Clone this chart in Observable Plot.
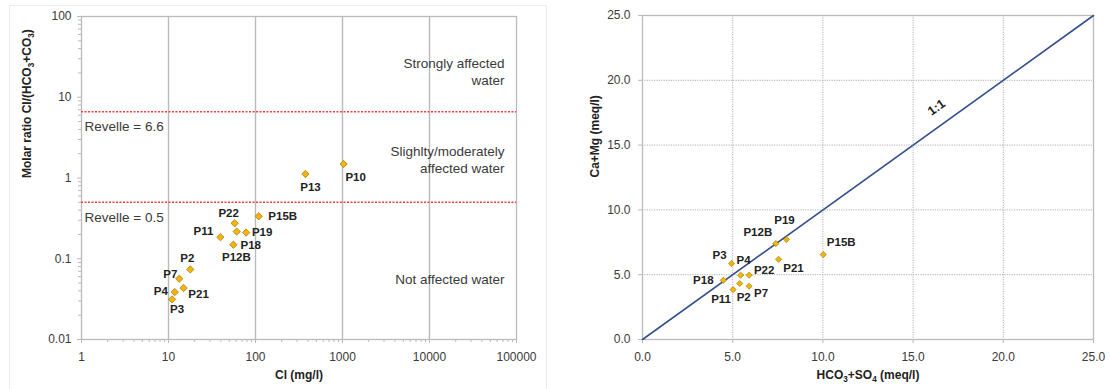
<!DOCTYPE html>
<html><head><meta charset="utf-8">
<script src="https://cdn.jsdelivr.net/npm/d3@7"></script>
<script src="https://cdn.jsdelivr.net/npm/@observablehq/plot@0.6"></script>
<style>
body{margin:0;background:#fff;width:1110px;height:389px;overflow:hidden;position:relative;font-family:"Liberation Sans",Arial,sans-serif;}
#left{position:absolute;left:0;top:0;}
#right{position:absolute;left:560px;top:0;}
#frameL{position:absolute;left:9px;top:5px;width:538px;height:400px;border:1px solid #ececec;box-sizing:border-box;}
</style></head><body>
<div id="frameL"></div><div id="left"></div><div id="right"></div>
<script>
// ---- Left chart data (Cl vs molar ratio) ----
const leftSites = ["P10","P13","P15B","P22","P19","P18","P11","P12B","P2","P7","P21","P4","P3"];
const chloride = [1030,375,109,57.6,78,60.8,39.5,55.7,17.8,13.3,14.9,11.8,11.0];
const molarRatio = [1.49,1.12,0.336,0.275,0.211,0.217,0.185,0.149,0.0738,0.0566,0.0434,0.0387,0.0314];
const revelleLevels = [0.5, 6.6];
const clTicks = [1,10,100,1000,10000,100000];
const ratioTicks = [0.01,0.1,1,10,100];
const zoneLabels = ["Strongly affected\nwater","Slighlty/moderately\naffected water","Not affected water"];

// ---- Right chart data (HCO3+SO4 vs Ca+Mg) ----
const rightSites = ["P3","P4","P22","P18","P11","P2","P7","P12B","P19","P21","P15B"];
const hco3so4 = [4.94,5.44,5.91,4.48,5.02,5.39,5.91,7.39,7.98,7.54,10.02];
const caMg = [5.86,4.96,4.96,4.57,3.85,4.32,4.11,7.40,7.71,6.19,6.55];
const meqTicks = [0,5,10,15,20,25];
const oneToOne = [0,25];

// label placement (pixels)
const leftLabelOffsets = {P10:[12,13],P13:[5,13],P15B:[24,0],P22:[-6,-10],P19:[16,0],P18:[14,14],P11:[-17,-6],P12B:[3,13],P2:[-3,-11],P7:[-9,-4],P21:[15,6],P4:[-14,-1],P3:[5,10]};
const rightLabelOffsets = {P3:[-12,-8],P4:[3,-15],P22:[15,-5],P18:[-20,0],P11:[-12,10],P2:[4,14],P7:[12,7],P12B:[-18,-11],P19:[-2,-19],P21:[15,9],P15B:[18,-12]};

const leftData = leftSites.map((s,i)=>({site:s, cl:chloride[i], ratio:molarRatio[i]}));
const rightData = rightSites.map((s,i)=>({site:s, x:hco3so4[i], y:caMg[i]}));

const minorLog = (lo,hi) => d3.range(lo,hi).flatMap(e => d3.range(2,10).map(m => +(m*Math.pow(10,e)).toPrecision(3)));

const FONT = "Liberation Sans, Arial, sans-serif";
const AXIS = "#bababa", TXT = "#3a3a3a", LBL = "#222222";
const dotFill = "#f3b50c", dotStroke = "#9a7400";

function subscriptify(svg){
  d3.select(svg).selectAll("text").each(function(){
    const t = this.textContent;
    if (!/[₃₄]/.test(t)) return;
    const parts = t.split(/([₃₄])/);
    this.textContent = "";
    for (const p of parts){
      if (!p) continue;
      const sub = p === "₃" || p === "₄";
      const ts = d3.select(this).append("tspan").text(sub ? (p === "₃" ? "3" : "4") : p);
      if (sub) ts.attr("font-size","0.68em").attr("dy", 3);
      else if (this.childNodes.length > 1) ts.attr("dy", -3);
    }
  });
  return svg;
}

const left = Plot.plot({
  width: 550, height: 389,
  marginLeft: 81, marginRight: 34, marginTop: 16, marginBottom: 50,
  style: {fontFamily: FONT, fontSize: "12px", color: TXT, background: "transparent"},
  x: {type: "log", domain: [1, 100000]},
  y: {type: "log", domain: [0.01, 100]},
  marks: [
    Plot.ruleX(clTicks.slice(1,-1), {stroke: AXIS, strokeWidth: 1.4}),
    Plot.frame({stroke: AXIS, strokeWidth: 1.3}),
    Plot.ruleY(revelleLevels, {stroke: "#f03c3c", strokeWidth: 1.5, strokeDasharray: "2,1.5"}),
    Plot.axisX(minorLog(0,5), {tickSize: 3, tickFormat: () => "", stroke: AXIS, label: null}),
    Plot.axisY(minorLog(-2,2), {tickSize: 3, tickFormat: () => "", stroke: AXIS, label: null}),
    Plot.axisX(clTicks, {tickSize: 4, tickPadding: 9, stroke: AXIS, fill: TXT, fontSize: 12, tickFormat: d => String(d), label: null}),
    Plot.axisY(ratioTicks, {tickSize: 4, tickPadding: 6, stroke: AXIS, fill: TXT, fontSize: 12, tickFormat: d => String(d), label: null}),
    Plot.text(revelleLevels, {y: d => d, frameAnchor: "left", dx: 3, dy: 15, text: d => `Revelle = ${d}`, textAnchor: "start", fontSize: 13.5, fill: TXT}),
    Plot.text(zoneLabels, {y: (d,i) => [21, 1.7, 0.057][i], frameAnchor: "right", dx: -12, textAnchor: "end", fontSize: 13.5, lineHeight: 1.2, fill: TXT}),
    Plot.dot(leftData, {x: "cl", y: "ratio", symbol: "diamond2", r: 3.3, fill: dotFill, stroke: dotStroke, strokeWidth: 0.7}),
    ...leftData.map(d => Plot.text([d], {x: "cl", y: "ratio", text: "site", dx: leftLabelOffsets[d.site][0], dy: leftLabelOffsets[d.site][1], fontWeight: "bold", fontSize: 11.5, fill: LBL})),
    Plot.text(["Cl (mg/l)"], {frameAnchor: "bottom", dy: 39, fontWeight: "bold", fontSize: 12, fill: LBL}),
    Plot.text(["Molar ratio Cl/(HCO₃+CO₃)"], {frameAnchor: "left", dx: -54, rotate: -90, fontWeight: "bold", fontSize: 12, fill: LBL})
  ]
});
document.getElementById("left").append(subscriptify(left));

const right = Plot.plot({
  width: 550, height: 389,
  marginLeft: 82, marginRight: 17, marginTop: 15, marginBottom: 50,
  style: {fontFamily: FONT, fontSize: "12px", color: TXT, background: "transparent"},
  x: {domain: [0, 25]},
  y: {domain: [0, 25]},
  marks: [
    Plot.ruleX(meqTicks.slice(1,-1), {stroke: "#b0b0b0", strokeDasharray: "1.2,1.2"}),
    Plot.ruleY(meqTicks.slice(1,-1), {stroke: "#b0b0b0", strokeDasharray: "1.2,1.2"}),
    Plot.frame({stroke: AXIS, strokeWidth: 1.3}),
    Plot.axisX(meqTicks, {tickSize: 4, tickPadding: 9, stroke: AXIS, fill: TXT, fontSize: 12, tickFormat: d3.format(".1f"), label: null}),
    Plot.axisY(meqTicks, {tickSize: 4, tickPadding: 8, stroke: AXIS, fill: TXT, fontSize: 12, tickFormat: d3.format(".1f"), label: null}),
    Plot.line(oneToOne, {x: d => d, y: d => d, stroke: "#35508f", strokeWidth: 1.6}),
    Plot.text(["1:1"], {x: 16.3, y: 17.9, rotate: -35.8, fontWeight: "bold", fontSize: 12.5, fill: LBL}),
    Plot.dot(rightData, {x: "x", y: "y", symbol: "diamond2", r: 2.8, fill: dotFill, stroke: dotStroke, strokeWidth: 0.6}),
    ...rightData.map(d => Plot.text([d], {x: "x", y: "y", text: "site", dx: rightLabelOffsets[d.site][0], dy: rightLabelOffsets[d.site][1], fontWeight: "bold", fontSize: 11.5, fill: LBL})),
    Plot.text(["HCO₃+SO₄ (meq/l)"], {frameAnchor: "bottom", dy: 39, fontWeight: "bold", fontSize: 12, fill: LBL}),
    Plot.text(["Ca+Mg (meq/l)"], {frameAnchor: "left", dx: -47, rotate: -90, fontWeight: "bold", fontSize: 12, fill: LBL})
  ]
});
document.getElementById("right").append(subscriptify(right));
</script>
</body></html>
